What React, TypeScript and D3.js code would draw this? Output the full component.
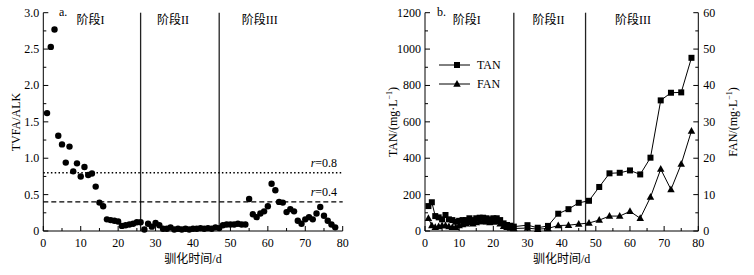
import React from 'react';
import * as d3 from 'd3';

// ---------- data ----------
const daysA = [1,2,3,4,5,6,7,8,9,10,11,12,13,14,15,16,17,18,19,20,21,22,23,24,25,26,
  27,28,29,30,31,32,33,34,35,36,37,38,39,40,41,42,43,44,45,46,47,
  48,49,50,51,52,53,54,55,56,57,58,59,60,61,62,63,64,65,66,67,68,69,70,71,72,73,74,75,76,77,78];
const ratioA = [1.62,2.53,2.77,1.31,1.19,0.94,1.16,0.82,0.93,0.75,0.88,0.77,0.79,0.61,0.39,0.34,0.16,0.15,0.14,0.13,0.07,0.08,0.09,0.10,0.12,0.12,
  0.02,0.10,0.06,0.11,0.08,0.03,0.03,0.05,0.02,0.03,0.02,0.03,0.02,0.03,0.03,0.04,0.03,0.04,0.03,0.05,0.04,
  0.08,0.09,0.09,0.09,0.10,0.09,0.09,0.44,0.23,0.19,0.24,0.27,0.34,0.65,0.56,0.40,0.39,0.26,0.30,0.27,0.14,0.10,0.16,0.19,0.16,0.24,0.33,0.21,0.14,0.09,0.05];

const daysB = [1,2,3,4,5,6,7,8,9,10,11,12,13,14,15,16,17,18,19,20,21,22,23,24,25,26,
  30,33,36,39,42,45,48,51,54,57,60,63,66,69,72,75,78];
const tanB = [137,158,82,75,64,88,64,60,51,56,60,60,70,60,70,73,73,70,64,70,70,60,42,33,29,24,
  32,18,28,95,120,155,166,242,317,320,333,311,403,718,760,762,952];
const fanB = [3.5,1.5,1.0,1.2,1.5,1.5,1.2,1.0,1.0,1.5,1.8,2.0,2.3,2.0,2.3,2.6,2.6,2.5,2.3,2.5,2.5,2.0,1.3,1.0,0.8,0.7,
  0.8,0.5,0.7,1.5,1.6,1.9,2.2,3.0,4.1,4.1,5.4,3.5,9.3,17.0,11.4,18.4,27.5];

const phaseBounds = [26, 47];
const phaseLabels = ['阶段I', '阶段II', '阶段III'];
const thresholds = [0.8, 0.4];
const thresholdLabels = ['0.8', '0.4'];
const xTicks = [0,10,20,30,40,50,60,70,80];
const yTicksA = [0,0.5,1.0,1.5,2.0,2.5,3.0];
const yTicksBL = [0,200,400,600,800,1000,1200];
const yTicksBR = [0,10,20,30,40,50,60];
const seriesNames = ['TAN', 'FAN'];

const FONT = "'Liberation Serif', 'Times New Roman', 'Noto Sans CJK SC', serif";
const TOP = 12.7, BOT = 231;

function range(a: number, b: number, s: number) {
  const r: number[] = [];
  for (let v = a; v <= b + 1e-9; v += s) r.push(+v.toFixed(6));
  return r;
}

function XAxis({ x, ticks }: { x: d3.ScaleLinear<number, number>; ticks: number[] }) {
  const minor = range(5, 75, 10);
  const [r0, r1] = x.range();
  return (
    <g>
      <line x1={r0} x2={r1} y1={BOT} y2={BOT} stroke="#000" strokeWidth={1} />
      {ticks.map(t => (
        <g key={'M' + t}>
          <line x1={x(t)} x2={x(t)} y1={BOT} y2={BOT - 5} stroke="#000" />
          <text x={x(t)} y={247} textAnchor="middle" fontSize={12} fontFamily={FONT}>{t}</text>
        </g>
      ))}
      {minor.map(t => (
        <line key={'m' + t} x1={x(t)} x2={x(t)} y1={BOT} y2={BOT - 3} stroke="#000" />
      ))}
      <text x={(r0 + r1) / 2} y={263} textAnchor="middle" fontSize={12} fontFamily={FONT}>驯化时间/d</text>
    </g>
  );
}

function YAxis({ y, ticks, minor, xPos, side, fmt }: { y: d3.ScaleLinear<number, number>; ticks: number[]; minor: number[]; xPos: number; side: 'left' | 'right'; fmt: (v: number) => string }) {
  const dir = side === 'left' ? 1 : -1;
  return (
    <g>
      <line x1={xPos} x2={xPos} y1={BOT} y2={TOP} stroke="#000" strokeWidth={1} />
      {ticks.map(t => (
        <g key={'M' + t}>
          <line x1={xPos} x2={xPos + dir * 5} y1={y(t)} y2={y(t)} stroke="#000" />
          <text x={side === 'left' ? xPos - 4 : xPos + 5} y={y(t) + 4} textAnchor={side === 'left' ? 'end' : 'start'} fontSize={12} fontFamily={FONT}>{fmt(t)}</text>
        </g>
      ))}
      {minor.map(t => (
        <line key={'m' + t} x1={xPos} x2={xPos + dir * 3} y1={y(t)} y2={y(t)} stroke="#000" />
      ))}
    </g>
  );
}

function PhaseLines({ x, labelDays }: { x: d3.ScaleLinear<number, number>; labelDays: number[] }) {
  return (
    <g>
      {phaseBounds.map(b => (
        <line key={b} x1={x(b)} x2={x(b)} y1={TOP} y2={BOT} stroke="#222" strokeWidth={1.3} />
      ))}
      {phaseLabels.map((l, i) => (
        <text key={l} x={x(labelDays[i])} y={24} fontSize={12} fontFamily={FONT}>{l}</text>
      ))}
    </g>
  );
}

function ChartA() {
  const x = d3.scaleLinear().domain([0, 80]).range([43.3, 342.7]);
  const y = d3.scaleLinear().domain([0, 3]).range([BOT, TOP]);
  return (
    <g>
      <PhaseLines x={x} labelDays={[8.9, 30.4, 53]} />
      {thresholds.map((t, i) => (
        <g key={t}>
          <line x1={x(0)} x2={x(80)} y1={y(t)} y2={y(t)} stroke="#000"
            strokeWidth={i === 0 ? 1.5 : 1.2}
            strokeDasharray={i === 0 ? '1.5,2.3' : '5,3'} />
          <text x={x(78.5)} y={y(t) - 6} textAnchor="end" fontSize={12} fontFamily={FONT}>
            <tspan fontStyle="italic">r</tspan>={thresholdLabels[i]}
          </text>
        </g>
      ))}
      {daysA.map((d, i) => (
        <circle key={i} cx={x(d)} cy={y(ratioA[i])} r={3.2} fill="#000" />
      ))}
      <XAxis x={x} ticks={xTicks} />
      <YAxis y={y} ticks={yTicksA} minor={range(0.25, 2.75, 0.5)} xPos={x(0)} side="left"
        fmt={v => (v === 0 ? '0' : v.toFixed(1))} />
      <text x={59} y={16} fontSize={12} fontFamily={FONT}>a.</text>
      <text transform={`translate(20,122) rotate(-90)`} textAnchor="middle" fontSize={12} fontFamily={FONT}>TVFA/ALK</text>
    </g>
  );
}

function triPath(cx: number, cy: number, s: number) {
  const h = s * 0.9;
  return `M${cx},${cy - h * 0.6}L${cx + s / 2},${cy + h * 0.4}L${cx - s / 2},${cy + h * 0.4}Z`;
}

function UnitLabel({ tx, ty, name }: { tx: number; ty: number; name: string }) {
  return (
    <text transform={`translate(${tx},${ty}) rotate(-90)`} textAnchor="middle" fontSize={12} fontFamily={FONT}>
      {name}/(mg·L<tspan dy={-5} fontSize={8}>−1</tspan><tspan dy={5}>)</tspan>
    </text>
  );
}

function ChartB() {
  const x = d3.scaleLinear().domain([0, 80]).range([425, 698.3]);
  const yL = d3.scaleLinear().domain([0, 1200]).range([BOT, TOP]);
  const yR = d3.scaleLinear().domain([0, 60]).range([BOT, TOP]);
  const tanLine = d3.line<number>().x((_, i) => x(daysB[i])).y(v => yL(v));
  const fanLine = d3.line<number>().x((_, i) => x(daysB[i])).y(v => yR(v));
  return (
    <g>
      <PhaseLines x={x} labelDays={[8.1, 31.5, 55.6]} />
      <path d={tanLine(tanB) || ''} fill="none" stroke="#000" strokeWidth={1} />
      <path d={fanLine(fanB) || ''} fill="none" stroke="#000" strokeWidth={1} />
      {daysB.map((d, i) => (
        <rect key={'s' + i} x={x(d) - 3} y={yL(tanB[i]) - 3} width={6} height={6} fill="#000" />
      ))}
      {daysB.map((d, i) => (
        <path key={'t' + i} d={triPath(x(d), yR(fanB[i]), 7.5)} fill="#000" />
      ))}
      <XAxis x={x} ticks={xTicks} />
      <YAxis y={yL} ticks={yTicksBL} minor={range(100, 1100, 200)} xPos={x(0)} side="left" fmt={v => String(v)} />
      <YAxis y={yR} ticks={yTicksBR} minor={range(5, 55, 10)} xPos={x(80)} side="right" fmt={v => String(v)} />
      {/* legend */}
      <g>
        <line x1={439} x2={470} y1={65} y2={65} stroke="#000" />
        <rect x={454} y={62} width={6} height={6} fill="#000" />
        <text x={477} y={69} fontSize={12} fontFamily={FONT}>{seriesNames[0]}</text>
        <line x1={439} x2={470} y1={84} y2={84} stroke="#000" />
        <path d={triPath(457, 84, 7.5)} fill="#000" />
        <text x={477} y={88} fontSize={12} fontFamily={FONT}>{seriesNames[1]}</text>
      </g>
      <text x={437} y={16} fontSize={12} fontFamily={FONT}>b.</text>
      <UnitLabel tx={397} ty={122} name="TAN" />
      <UnitLabel tx={737} ty={122} name="FAN" />
    </g>
  );
}

export default function App() {
  return (
    <svg width={754} height={275} viewBox="0 0 754 275"
      style={{ position: 'fixed', left: 0, top: 0, background: '#fff' }}>
      <rect width={754} height={275} fill="#fff" />
      <ChartA />
      <ChartB />
    </svg>
  );
}
